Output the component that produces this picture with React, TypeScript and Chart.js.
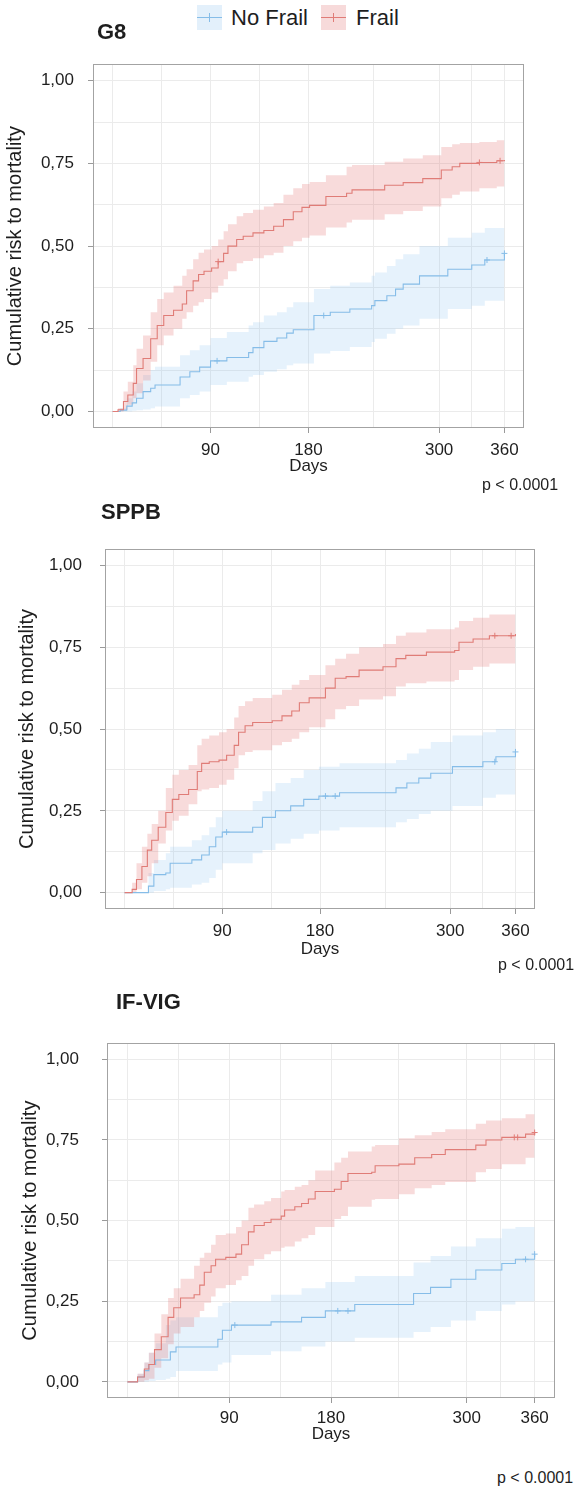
import React, { useEffect, useRef } from "react";
import { Chart, registerables } from "chart.js";

Chart.register(...registerables);

const FONT = '"Liberation Sans", Arial, Helvetica, sans-serif';

// ---------------- data ----------------
// G8
const G8_NOFRAIL_T = [0, 7, 13, 18, 22, 28, 35, 39, 62, 71, 80, 90, 105, 125, 129, 139, 151, 160, 166, 185, 200, 218, 238, 241, 252, 260, 267, 282, 308, 330, 342, 360];
const G8_NOFRAIL_EST = [0, 0.004, 0.016, 0.026, 0.04, 0.06, 0.07, 0.08, 0.104, 0.12, 0.134, 0.153, 0.163, 0.178, 0.193, 0.212, 0.222, 0.237, 0.247, 0.29, 0.3, 0.31, 0.32, 0.335, 0.35, 0.37, 0.385, 0.41, 0.43, 0.443, 0.458, 0.478];
const G8_NOFRAIL_LO = [0, 0, 0, 0.002, 0.004, 0.006, 0.01, 0.015, 0.04, 0.05, 0.06, 0.08, 0.09, 0.105, 0.11, 0.12, 0.128, 0.14, 0.145, 0.175, 0.183, 0.195, 0.21, 0.22, 0.235, 0.25, 0.26, 0.28, 0.31, 0.32, 0.335, 0.36];
const G8_NOFRAIL_HI = [0, 0.01, 0.04, 0.06, 0.085, 0.11, 0.125, 0.135, 0.17, 0.185, 0.2, 0.222, 0.24, 0.26, 0.27, 0.29, 0.3, 0.315, 0.33, 0.37, 0.38, 0.39, 0.41, 0.42, 0.44, 0.46, 0.475, 0.5, 0.525, 0.54, 0.555, 0.571];
const G8_NOFRAIL_CENS = [96, 194, 344, 360];

const G8_FRAIL_T = [0, 5, 10, 14, 19, 22, 28, 35, 41, 47, 56, 64, 68, 74, 79, 84, 91, 97, 102, 106, 114, 120, 129, 139, 148, 157, 166, 174, 181, 196, 215, 220, 250, 267, 285, 302, 312, 319, 337, 353, 360];
const G8_FRAIL_EST = [0, 0.005, 0.03, 0.05, 0.085, 0.13, 0.16, 0.22, 0.26, 0.29, 0.306, 0.325, 0.365, 0.395, 0.414, 0.424, 0.434, 0.453, 0.478, 0.5, 0.52, 0.53, 0.54, 0.547, 0.56, 0.58, 0.604, 0.617, 0.623, 0.65, 0.66, 0.67, 0.684, 0.692, 0.704, 0.73, 0.74, 0.75, 0.753, 0.758, 0.76];
const G8_FRAIL_LO = [0, 0, 0.005, 0.02, 0.04, 0.055, 0.094, 0.15, 0.2, 0.23, 0.25, 0.28, 0.3, 0.32, 0.33, 0.34, 0.36, 0.38, 0.4, 0.424, 0.448, 0.455, 0.463, 0.472, 0.48, 0.5, 0.515, 0.525, 0.532, 0.556, 0.571, 0.58, 0.596, 0.606, 0.62, 0.645, 0.655, 0.665, 0.675, 0.68, 0.68];
const G8_FRAIL_HI = [0, 0.01, 0.06, 0.09, 0.14, 0.19, 0.23, 0.3, 0.34, 0.36, 0.38, 0.41, 0.43, 0.46, 0.48, 0.49, 0.5, 0.52, 0.545, 0.566, 0.59, 0.6, 0.61, 0.62, 0.63, 0.655, 0.675, 0.688, 0.694, 0.714, 0.74, 0.745, 0.755, 0.765, 0.775, 0.8, 0.808, 0.812, 0.815, 0.82, 0.82];
const G8_FRAIL_CENS = [97, 337, 356];

// SPPB
const SPPB_NOFRAIL_T = [0, 19, 22, 27, 38, 42, 62, 71, 78, 84, 90, 118, 127, 139, 153, 165, 179, 198, 250, 260, 271, 282, 302, 330, 342, 360];
const SPPB_NOFRAIL_EST = [0, 0, 0.02, 0.055, 0.06, 0.09, 0.1, 0.115, 0.14, 0.17, 0.185, 0.2, 0.23, 0.25, 0.265, 0.285, 0.295, 0.305, 0.32, 0.335, 0.35, 0.365, 0.385, 0.4, 0.415, 0.43];
const SPPB_NOFRAIL_LO = [0, 0, 0, 0.005, 0.01, 0.015, 0.025, 0.03, 0.045, 0.07, 0.09, 0.12, 0.13, 0.15, 0.165, 0.18, 0.19, 0.2, 0.215, 0.225, 0.24, 0.25, 0.265, 0.29, 0.3, 0.32];
const SPPB_NOFRAIL_HI = [0, 0, 0.06, 0.1, 0.12, 0.14, 0.16, 0.175, 0.2, 0.23, 0.25, 0.28, 0.31, 0.335, 0.35, 0.375, 0.385, 0.395, 0.405, 0.425, 0.44, 0.46, 0.48, 0.49, 0.5, 0.515];
const SPPB_NOFRAIL_CENS = [94, 185, 194, 341, 360];

const SPPB_FRAIL_T = [0, 7, 11, 16, 21, 25, 31, 38, 44, 50, 59, 67, 71, 78, 87, 94, 101, 105, 111, 118, 136, 145, 154, 161, 170, 185, 194, 204, 216, 238, 250, 259, 278, 304, 308, 321, 336, 360];
const SPPB_FRAIL_EST = [0, 0.01, 0.04, 0.08, 0.13, 0.16, 0.2, 0.245, 0.285, 0.3, 0.315, 0.37, 0.395, 0.4, 0.405, 0.42, 0.45, 0.49, 0.51, 0.52, 0.525, 0.54, 0.555, 0.58, 0.595, 0.625, 0.655, 0.66, 0.68, 0.69, 0.715, 0.725, 0.735, 0.74, 0.765, 0.775, 0.785, 0.79];
const SPPB_FRAIL_LO = [0, 0, 0.01, 0.03, 0.05, 0.09, 0.15, 0.19, 0.22, 0.235, 0.27, 0.31, 0.315, 0.32, 0.33, 0.345, 0.38, 0.42, 0.43, 0.435, 0.45, 0.46, 0.47, 0.49, 0.505, 0.53, 0.56, 0.57, 0.59, 0.6, 0.63, 0.64, 0.645, 0.65, 0.68, 0.69, 0.7, 0.715];
const SPPB_FRAIL_HI = [0, 0.03, 0.09, 0.14, 0.18, 0.21, 0.25, 0.32, 0.36, 0.375, 0.39, 0.45, 0.47, 0.48, 0.49, 0.5, 0.535, 0.57, 0.585, 0.595, 0.605, 0.62, 0.635, 0.65, 0.665, 0.695, 0.715, 0.73, 0.75, 0.76, 0.785, 0.795, 0.805, 0.81, 0.83, 0.84, 0.85, 0.86];
const SPPB_FRAIL_CENS = [341, 356];

// IF-VIG
const IFVIG_NOFRAIL_T = [0, 9, 15, 19, 25, 34, 38, 43, 80, 84, 92, 127, 154, 175, 201, 253, 268, 286, 308, 331, 343, 360];
const IFVIG_NOFRAIL_EST = [0, 0.015, 0.035, 0.054, 0.068, 0.068, 0.093, 0.108, 0.132, 0.16, 0.176, 0.186, 0.2, 0.22, 0.24, 0.274, 0.293, 0.318, 0.347, 0.367, 0.38, 0.396];
const IFVIG_NOFRAIL_LO = [0, 0, 0, 0.003, 0.006, 0.01, 0.015, 0.034, 0.054, 0.06, 0.083, 0.095, 0.11, 0.125, 0.137, 0.155, 0.17, 0.19, 0.22, 0.24, 0.25, 0.27];
const IFVIG_NOFRAIL_HI = [0, 0.025, 0.06, 0.09, 0.12, 0.176, 0.19, 0.2, 0.235, 0.245, 0.25, 0.27, 0.29, 0.31, 0.328, 0.37, 0.39, 0.42, 0.445, 0.475, 0.48, 0.494];
const IFVIG_NOFRAIL_CENS = [95, 186, 195, 352, 360];

const IFVIG_FRAIL_T = [0, 9, 15, 19, 24, 30, 36, 41, 47, 59, 64, 68, 74, 78, 87, 96, 101, 107, 112, 121, 127, 136, 139, 148, 154, 160, 166, 183, 189, 195, 216, 219, 240, 254, 269, 281, 308, 317, 331, 352, 360];
const IFVIG_FRAIL_EST = [0, 0.015, 0.04, 0.054, 0.1, 0.14, 0.2, 0.23, 0.26, 0.27, 0.3, 0.34, 0.36, 0.38, 0.386, 0.396, 0.425, 0.465, 0.485, 0.494, 0.504, 0.514, 0.533, 0.543, 0.553, 0.567, 0.59, 0.597, 0.621, 0.646, 0.65, 0.67, 0.675, 0.695, 0.705, 0.72, 0.734, 0.75, 0.758, 0.768, 0.773];
const IFVIG_FRAIL_LO = [0, 0, 0.005, 0.01, 0.044, 0.073, 0.117, 0.15, 0.17, 0.2, 0.22, 0.245, 0.265, 0.29, 0.3, 0.315, 0.328, 0.36, 0.38, 0.396, 0.405, 0.416, 0.42, 0.435, 0.445, 0.455, 0.48, 0.505, 0.514, 0.543, 0.565, 0.567, 0.582, 0.6, 0.61, 0.62, 0.65, 0.66, 0.675, 0.695, 0.7];
const IFVIG_FRAIL_HI = [0, 0.025, 0.06, 0.09, 0.15, 0.21, 0.26, 0.29, 0.32, 0.36, 0.385, 0.4, 0.425, 0.455, 0.46, 0.48, 0.5, 0.54, 0.55, 0.56, 0.57, 0.59, 0.595, 0.605, 0.61, 0.625, 0.655, 0.68, 0.695, 0.714, 0.73, 0.734, 0.755, 0.765, 0.775, 0.783, 0.8, 0.81, 0.817, 0.83, 0.832];
const IFVIG_FRAIL_CENS = [342, 345, 360];

// axes
const X_GRID = [0, 45, 90, 135, 180, 240, 300, 330, 360];
const X_LABELED = [90, 180, 300, 360];
const Y_GRID = [0, 0.125, 0.25, 0.375, 0.5, 0.625, 0.75, 0.875, 1];
const Y_LABELED = [0, 0.25, 0.5, 0.75, 1];

const SERIES_NAMES = ["No Frail", "Frail"];
const PANEL_TITLES = ["G8", "SPPB", "IF-VIG"];
const P_TEXT = "p < 0.0001";

// ---------------- styles ----------------
const BLUE_LINE = "#86BDE8";
const BLUE_FILL = "rgba(140,196,242,0.22)";
const BLUE_KEY = "#E3F0FB";
const RED_LINE = "#E07C77";
const RED_FILL = "rgba(226,110,110,0.25)";
const RED_KEY = "#F7DADA";
const GRID = "#EBEBEB";
const BORDER = "#A3A3A3";
const TICK = "#9A9A9A";
const TEXT = "#1E1E1E";
const YTITLE_SIZE = 20;

type Group = { t: number[]; est: number[]; lo: number[]; hi: number[]; cens: number[] };
type Layout = {
  top: number; height: number; padTop: number; padRight: number;
  yWidth: number; xHeight: number; yTitleX: number; yTickPad: number; xTickPad: number;
  titleX: number; titleY: number; pX: number; pY: number;
};

const PANELS: { title: string; noFrail: Group; frail: Group; L: Layout }[] = [
  {
    title: PANEL_TITLES[0],
    noFrail: { t: G8_NOFRAIL_T, est: G8_NOFRAIL_EST, lo: G8_NOFRAIL_LO, hi: G8_NOFRAIL_HI, cens: G8_NOFRAIL_CENS },
    frail: { t: G8_FRAIL_T, est: G8_FRAIL_EST, lo: G8_FRAIL_LO, hi: G8_FRAIL_HI, cens: G8_FRAIL_CENS },
    L: { top: 40, height: 438, padTop: 17, padRight: 55, yWidth: 93, xHeight: 50, yTitleX: 15, yTickPad: 14, xTickPad: 7, titleX: 97, titleY: 32, pX: 482, pY: 485 },
  },
  {
    title: PANEL_TITLES[1],
    noFrail: { t: SPPB_NOFRAIL_T, est: SPPB_NOFRAIL_EST, lo: SPPB_NOFRAIL_LO, hi: SPPB_NOFRAIL_HI, cens: SPPB_NOFRAIL_CENS },
    frail: { t: SPPB_FRAIL_T, est: SPPB_FRAIL_EST, lo: SPPB_FRAIL_LO, hi: SPPB_FRAIL_HI, cens: SPPB_FRAIL_CENS },
    L: { top: 520, height: 441, padTop: 29, padRight: 44, yWidth: 105, xHeight: 52, yTitleX: 27, yTickPad: 18, xTickPad: 7, titleX: 101, titleY: 512, pX: 498, pY: 965 },
  },
  {
    title: PANEL_TITLES[2],
    noFrail: { t: IFVIG_NOFRAIL_T, est: IFVIG_NOFRAIL_EST, lo: IFVIG_NOFRAIL_LO, hi: IFVIG_NOFRAIL_HI, cens: IFVIG_NOFRAIL_CENS },
    frail: { t: IFVIG_FRAIL_T, est: IFVIG_FRAIL_EST, lo: IFVIG_FRAIL_LO, hi: IFVIG_FRAIL_HI, cens: IFVIG_FRAIL_CENS },
    L: { top: 1010, height: 436, padTop: 21, padRight: 24, yWidth: 107, xHeight: 48, yTitleX: 30, yTickPad: 23, xTickPad: 5, titleX: 116, titleY: 1002, pX: 497, pY: 1478 },
  },
];

const framePlugin = {
  id: "frame",
  afterDatasetsDraw(chart: any) {
    const { ctx, chartArea: a } = chart;
    ctx.save();
    ctx.strokeStyle = BORDER;
    ctx.lineWidth = 1;
    const l = Math.round(a.left) + 0.5;
    const t = Math.round(a.top) + 0.5;
    const r = Math.round(a.right) - 0.5;
    const b = Math.round(a.bottom) - 0.5;
    ctx.strokeRect(l, t, r - l, b - t);
    ctx.restore();
  },
};

const pts = (t: number[], v: number[]) => t.map((x, i) => ({ x, y: v[i] }));
const valueAt = (g: Group, x: number) => {
  let v = 0;
  for (let i = 0; i < g.t.length; i++) if (g.t[i] <= x) v = g.est[i];
  return v;
};

function KMChart({ panel }: { panel: (typeof PANELS)[number] }) {
  const ref = useRef<HTMLCanvasElement>(null);
  useEffect(() => {
    if (!ref.current) return;
    const L = panel.L;
    const nf = panel.noFrail;
    const fr = panel.frail;
    const bandLo = (g: Group, order: number) => ({
      data: pts(g.t, g.lo), stepped: true, borderWidth: 0, borderColor: "rgba(0,0,0,0)",
      pointRadius: 0, fill: false, order,
    });
    const bandHi = (g: Group, color: string, order: number) => ({
      data: pts(g.t, g.hi), stepped: true, borderWidth: 0, borderColor: "rgba(0,0,0,0)",
      pointRadius: 0, fill: "-1", backgroundColor: color, order,
    });
    const est = (g: Group, color: string, order: number) => ({
      data: pts(g.t, g.est), stepped: true, borderWidth: 1.1, borderColor: color,
      pointRadius: 0, fill: false, order,
    });
    const cens = (g: Group, color: string, order: number) => ({
      data: g.cens.map((x) => ({ x, y: valueAt(g, x) })), showLine: false,
      pointStyle: "cross", pointRadius: 3, borderWidth: 1, borderColor: color,
      backgroundColor: color, order,
    });
    const chart = new Chart(ref.current, {
      type: "line",
      data: {
        datasets: [
          bandLo(nf, 12), bandHi(nf, BLUE_FILL, 12),
          bandLo(fr, 11), bandHi(fr, RED_FILL, 11),
          est(nf, BLUE_LINE, 3), est(fr, RED_LINE, 2),
          cens(nf, BLUE_LINE, 1), cens(fr, RED_LINE, 0),
        ] as any,
      },
      options: {
        responsive: false,
        animation: false,
        devicePixelRatio: 1,
        events: [],
        layout: { padding: { top: L.padTop, right: L.padRight, left: 0, bottom: 0 } },
        plugins: { legend: { display: false }, tooltip: { enabled: false }, title: { display: false } },
        scales: {
          x: {
            type: "linear", min: -18, max: 378,
            afterBuildTicks: (s: any) => { s.ticks = X_GRID.map((v) => ({ value: v })); },
            afterFit: (s: any) => { s.height = L.xHeight; },
            ticks: {
              autoSkip: false, maxRotation: 0, minRotation: 0, padding: L.xTickPad, color: TEXT,
              font: { family: FONT, size: 17 },
              callback: (v: any) => (X_LABELED.includes(Number(v)) ? String(v) : ""),
            },
            grid: {
              color: GRID, lineWidth: 1, drawTicks: true, tickLength: 5,
              tickColor: (c: any) => (c.tick && X_LABELED.includes(c.tick.value) ? TICK : "rgba(0,0,0,0)"),
            },
            border: { display: false },
            title: {
              display: true, text: "Days", color: TEXT, font: { family: FONT, size: 17 },
              padding: { top: 0, bottom: 1 },
            },
          },
          y: {
            type: "linear", min: -0.05, max: 1.05,
            afterBuildTicks: (s: any) => { s.ticks = Y_GRID.map((v) => ({ value: v })); },
            afterFit: (s: any) => { s.width = L.yWidth; },
            ticks: {
              autoSkip: false, padding: L.yTickPad, color: TEXT, font: { family: FONT, size: 17 },
              callback: (v: any) => (Y_LABELED.includes(Number(v)) ? Number(v).toFixed(2).replace(".", ",") : ""),
            },
            grid: {
              color: GRID, lineWidth: 1, drawTicks: true, tickLength: 5,
              tickColor: (c: any) => (c.tick && Y_LABELED.includes(c.tick.value) ? TICK : "rgba(0,0,0,0)"),
            },
            border: { display: false },
            title: {
              display: true, text: "Cumulative risk to mortality", color: TEXT,
              font: { family: FONT, size: YTITLE_SIZE },
              padding: { top: L.yTitleX - YTITLE_SIZE * 0.6, bottom: 0 },
            },
          },
        },
      } as any,
      plugins: [framePlugin],
    });
    return () => chart.destroy();
  }, [panel]);
  return (
    <canvas
      ref={ref}
      width={579}
      height={panel.L.height}
      style={{ position: "absolute", left: 0, top: panel.L.top, width: 579, height: panel.L.height }}
    />
  );
}

function LegendKey({ left, fill, line }: { left: number; fill: string; line: string }) {
  return (
    <div style={{ position: "absolute", left, top: 5, width: 25, height: 25, background: fill }}>
      <div style={{ position: "absolute", left: 0, top: 12, width: 25, height: 1, background: line }} />
      <div style={{ position: "absolute", left: 12, top: 8, width: 1, height: 9, background: line }} />
    </div>
  );
}

export default function App() {
  const text = (content: string, left: number, centerY: number, size: number, bold = false) => (
    <div
      style={{
        position: "absolute", left, top: centerY - size / 2, fontFamily: FONT, fontSize: size,
        lineHeight: `${size}px`, fontWeight: bold ? 700 : 400, color: TEXT, whiteSpace: "nowrap",
      }}
    >
      {content}
    </div>
  );
  return (
    <div style={{ position: "absolute", left: 0, top: 0, width: 579, height: 1488, background: "#fff", overflow: "hidden" }}>
      <LegendKey left={197} fill={BLUE_KEY} line={BLUE_LINE} />
      {text(SERIES_NAMES[0], 231, 18, 22)}
      <LegendKey left={321} fill={RED_KEY} line={RED_LINE} />
      {text(SERIES_NAMES[1], 356, 18, 22)}
      {PANELS.map((p) => (
        <React.Fragment key={p.title}>
          <KMChart panel={p} />
          {text(p.title, p.L.titleX, p.L.titleY, 22, true)}
          {text(P_TEXT, p.L.pX, p.L.pY, 16)}
        </React.Fragment>
      ))}
    </div>
  );
}
